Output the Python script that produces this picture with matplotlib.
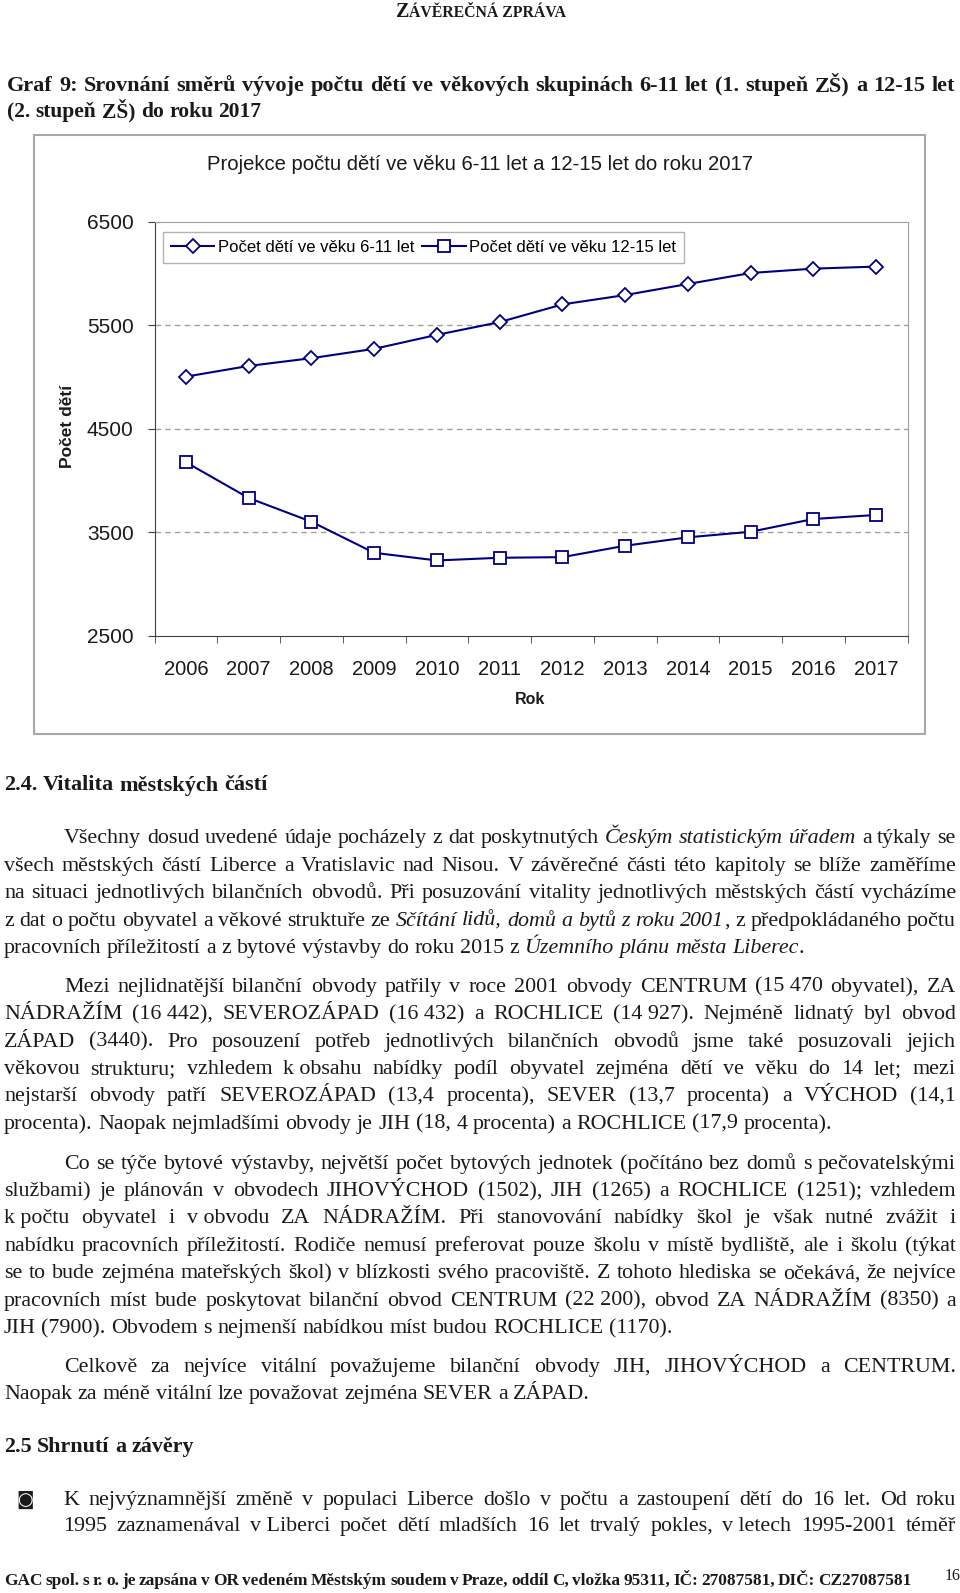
import matplotlib
matplotlib.use('Agg')
import matplotlib.pyplot as plt
from matplotlib.patches import Rectangle
from matplotlib.transforms import Affine2D
import numpy as np

W, H = 960, 1593

# chart data
years = ['2006', '2007', '2008', '2009', '2010', '2011',
         '2012', '2013', '2014', '2015', '2016', '2017']
deti_6_11 = [5003, 5106, 5181, 5271, 5406, 5529, 5700, 5790, 5897, 6003, 6045, 6065]
deti_12_15 = [4177, 3832, 3603, 3303, 3229, 3255, 3261, 3371, 3452, 3506, 3629, 3668]
y_ticks = [2500, 3500, 4500, 5500, 6500]
series_names = ['Počet dětí ve věku 6-11 let', 'Počet dětí ve věku 12-15 let']
chart_title = 'Projekce počtu dětí ve věku 6-11 let a 12-15 let do roku 2017'

fig = plt.figure(figsize=(W / 100, H / 100), dpi=100)
fig.patch.set_facecolor('white')
PX = Affine2D().scale(1, -1).translate(0, H)   # pixels from top-left
renderer = fig.canvas.get_renderer()

NAVY = '#000080'
TXT = '#1a1a1a'

# ---- chart frame ----
fig.patches.append(Rectangle((33.5, 135), 891.5, 599, transform=PX, fill=False,
                             ec='#a8a8a8', lw=1.5))

ax = fig.add_axes([154.5 / W, 1 - 636 / H, 753 / W, 414.5 / H])
x = np.arange(len(years))
ax.plot(x, deti_6_11, color=NAVY, lw=1.5, marker='D', ms=7, mfc='white',
        mec=NAVY, mew=1.3, label=series_names[0], zorder=3)
ax.plot(x, deti_12_15, color=NAVY, lw=1.5, marker='s', ms=8, mfc='white',
        mec=NAVY, mew=1.3, label=series_names[1], zorder=3)
ax.set_xlim(-0.5, len(years) - 0.5)
ax.set_ylim(y_ticks[0], y_ticks[-1])
ax.set_yticks(y_ticks)
for v in y_ticks[1:-1]:
    ax.axhline(v, color='#a0a0a0', lw=1, ls=(0, (4, 3)), zorder=1)
ax.set_xticks(x)
ax.set_xticklabels(years, family='Liberation Sans', fontsize=14.5, color=TXT)
ax.set_xticks(np.arange(-0.5, len(years)), minor=True)
ax.tick_params(axis='x', which='major', length=0, pad=17)
ax.tick_params(axis='x', which='minor', length=5, direction='out', color='#404040')
ax.tick_params(axis='y', length=5, direction='out', pad=10, color='#404040',
               labelsize=15, labelcolor=TXT)
for lab in ax.get_yticklabels():
    lab.set_family('Liberation Sans')
for s in ['top', 'right']:
    ax.spines[s].set_color('#a0a0a0')
for s in ['left', 'bottom']:
    ax.spines[s].set_color('#404040')

leg = ax.legend(loc='upper left', bbox_to_anchor=(162.6 / W, 1 - 231.7 / H),
                bbox_transform=fig.transFigure, ncol=2, frameon=True, fancybox=False,
                edgecolor='#a0a0a0', handlelength=2.6, handletextpad=0.2,
                columnspacing=0.5, borderpad=0.5, borderaxespad=0,
                prop={'family': 'Liberation Sans', 'size': 12})
leg.get_frame().set_linewidth(1)

fig.text(480, 164, chart_title, transform=PX, ha='center', va='center',
         fontsize=14.6, family='Liberation Sans', color=TXT)
fig.text(67, 426, 'Počet dětí', transform=PX, ha='center', va='center', rotation=90,
         fontsize=12.5, weight='bold', family='Liberation Sans', color=TXT)
fig.text(530, 699, 'Rok', transform=PX, ha='center', va='center',
         fontsize=11.5, weight='bold', family='Liberation Sans', color=TXT)

# ---- page text ----
STY = {'n': {}, 'i': {'style': 'italic'}, 'b': {'weight': 'bold'}}


def word_groups(segs):
    groups = [[]]
    for txt, st in segs:
        for i, p in enumerate(txt.split(' ')):
            if i > 0:
                groups.append([])
            if p:
                groups[-1].append((p, st))
    return [g for g in groups if g]


def text_w(s, size, st, family):
    t = fig.text(0, 0, s, transform=PX, fontsize=size, family=family, **STY[st])
    w = t.get_window_extent(renderer).width
    t.remove()
    return w


def place_line(segs, x0, x1, yb, size=15.8, justify=True, family='Liberation Serif',
               color=TXT):
    groups = word_groups(segs)
    st0 = segs[0][1]
    if justify and len(groups) > 1:
        # shrink the font if the words do not fit the line
        for _ in range(3):
            tot = sum(text_w(p, size, st, family) for g in groups for p, st in g)
            sp = text_w('n n', size, st0, family) - text_w('nn', size, st0, family)
            need = tot + 0.7 * sp * (len(groups) - 1)
            if need <= x1 - x0:
                break
            size *= (x1 - x0) / need
    items, widths = [], []
    for g in groups:
        arts, tot = [], 0
        for p, st in g:
            t = fig.text(0, yb, p, transform=PX, fontsize=size, family=family,
                         color=color, va='baseline', **STY[st])
            bw = t.get_window_extent(renderer).width
            arts.append((t, bw))
            tot += bw
        items.append(arts)
        widths.append(tot)
    sp = text_w('n n', size, st0, family) - text_w('nn', size, st0, family)
    if justify and len(groups) > 1:
        gap = (x1 - x0 - sum(widths)) / (len(groups) - 1)
    else:
        gap = sp
    xx = x0
    for arts, w in zip(items, widths):
        for t, bw in arts:
            t.set_x(xx)
            xx += bw
        xx += gap


# header in small caps
parts = [('Z', 14.5), ('ÁVĚREČNÁ ZPRÁVA', 11.3)]
ws = [text_w(p, s, 'b', 'Liberation Serif') for p, s in parts]
hx = 481 - sum(ws) / 2
for (p, s), w in zip(parts, ws):
    fig.text(hx, 17, p, transform=PX, fontsize=s, weight='bold',
             family='Liberation Serif', color=TXT, va='baseline')
    hx += w

# caption
place_line([('Graf 9: Srovnání směrů vývoje počtu dětí ve věkových skupinách 6-11 let '
             '(1. stupeň ZŠ) a 12-15 let', 'b')], 7, 955, 91, size=16)
place_line([('(2. stupeň ZŠ) do roku 2017', 'b')], 7, 955, 117, size=15.5, justify=False)

place_line([('2.4. Vitalita městských částí', 'b')], 4, 956, 790.5, size=16, justify=False)

L0, R0, IND = 4, 956, 64
PITCH = 27.4

para1 = [
    [('Všechny dosud uvedené údaje pocházely z dat poskytnutých ', 'n'),
     ('Českým statistickým úřadem', 'i'), (' a týkaly se', 'n')],
    [('všech městských částí Liberce a Vratislavic nad Nisou. V závěrečné části této '
      'kapitoly se blíže zaměříme', 'n')],
    [('na situaci jednotlivých bilančních obvodů. Při posuzování vitality jednotlivých '
      'městských částí vycházíme', 'n')],
    [('z dat o počtu obyvatel a věkové struktuře ze ', 'n'),
     ('Sčítání lidů, domů a bytů z roku 2001', 'i'), (', z předpokládaného počtu', 'n')],
    [('pracovních příležitostí a z bytové výstavby do roku 2015 z ', 'n'),
     ('Územního plánu města Liberec', 'i'), ('.', 'n')],
]
para2 = [
    [('Mezi nejlidnatější bilanční obvody patřily v roce 2001 obvody CENTRUM '
      '(15\u00a0470 obyvatel), ZA', 'n')],
    [('NÁDRAŽÍM (16\u00a0442), SEVEROZÁPAD (16\u00a0432) a ROCHLICE (14\u00a0927). '
      'Nejméně lidnatý byl obvod', 'n')],
    [('ZÁPAD (3440). Pro posouzení potřeb jednotlivých bilančních obvodů jsme také '
      'posuzovali jejich', 'n')],
    [('věkovou strukturu; vzhledem k\u00a0obsahu nabídky podíl obyvatel zejména dětí ve '
      'věku do 14 let; mezi', 'n')],
    [('nejstarší obvody patří SEVEROZÁPAD (13,4 procenta), SEVER (13,7 procenta) a '
      'VÝCHOD (14,1', 'n')],
    [('procenta). Naopak nejmladšími obvody je JIH (18, 4 procenta) a ROCHLICE '
      '(17,9 procenta).', 'n')],
]
para3 = [
    [('Co se týče bytové výstavby, největší počet bytových jednotek (počítáno bez domů '
      's pečovatelskými', 'n')],
    [('službami) je plánován v obvodech JIHOVÝCHOD (1502), JIH (1265) a ROCHLICE '
      '(1251); vzhledem', 'n')],
    [('k\u00a0počtu obyvatel i v\u00a0obvodu ZA NÁDRAŽÍM. Při stanovování nabídky škol '
      'je však nutné zvážit i', 'n')],
    [('nabídku pracovních příležitostí. Rodiče nemusí preferovat pouze školu v místě '
      'bydliště, ale i školu (týkat', 'n')],
    [('se to bude zejména mateřských škol) v blízkosti svého pracoviště. Z tohoto '
      'hlediska se očekává, že nejvíce', 'n')],
    [('pracovních míst bude poskytovat bilanční obvod CENTRUM (22\u00a0200), obvod ZA '
      'NÁDRAŽÍM (8350) a', 'n')],
    [('JIH (7900). Obvodem s nejmenší nabídkou míst budou ROCHLICE (1170).', 'n')],
]
para4 = [
    [('Celkově za nejvíce vitální považujeme bilanční obvody JIH, JIHOVÝCHOD a '
      'CENTRUM.', 'n')],
    [('Naopak za méně vitální lze považovat zejména SEVER a ZÁPAD.', 'n')],
]


def paragraph(lines, y_first, x_first=IND, x_rest=L0):
    for i, segs in enumerate(lines):
        last = i == len(lines) - 1
        place_line(segs, x_first if i == 0 else x_rest, R0, y_first + i * PITCH,
                   justify=not last)


paragraph(para1, 843.4)
paragraph(para2, 991.8)
paragraph(para3, 1168.6)
paragraph(para4, 1371.9)

place_line([('2.5 Shrnutí a závěry', 'b')], 4, 956, 1452, size=15.8, justify=False)

fig.text(16, 1505, '\u25d9', transform=PX, fontsize=13, family='DejaVu Sans',
         color=TXT, va='baseline')
bullet = [
    [('K nejvýznamnější změně v populaci Liberce došlo v počtu a zastoupení dětí do '
      '16 let. Od roku', 'n')],
    [('1995 zaznamenával v\u00a0Liberci počet dětí mladších 16 let trvalý pokles, '
      'v\u00a0letech 1995-2001 téměř', 'n')],
]
for i, segs in enumerate(bullet):
    place_line(segs, 63, R0, 1505 + i * 26.4)

place_line([('GAC spol. s r. o. je zapsána v OR vedeném Městským soudem v Praze, oddíl C, '
             'vložka 95311, IČ: 27087581, DIČ: CZ27087581', 'b')], 4, 912, 1585, size=13)
fig.text(945, 1580, '16', transform=PX, fontsize=11.5, family='Liberation Serif',
         color=TXT, va='baseline')

fig.savefig('out.png', dpi=100, facecolor='white')
